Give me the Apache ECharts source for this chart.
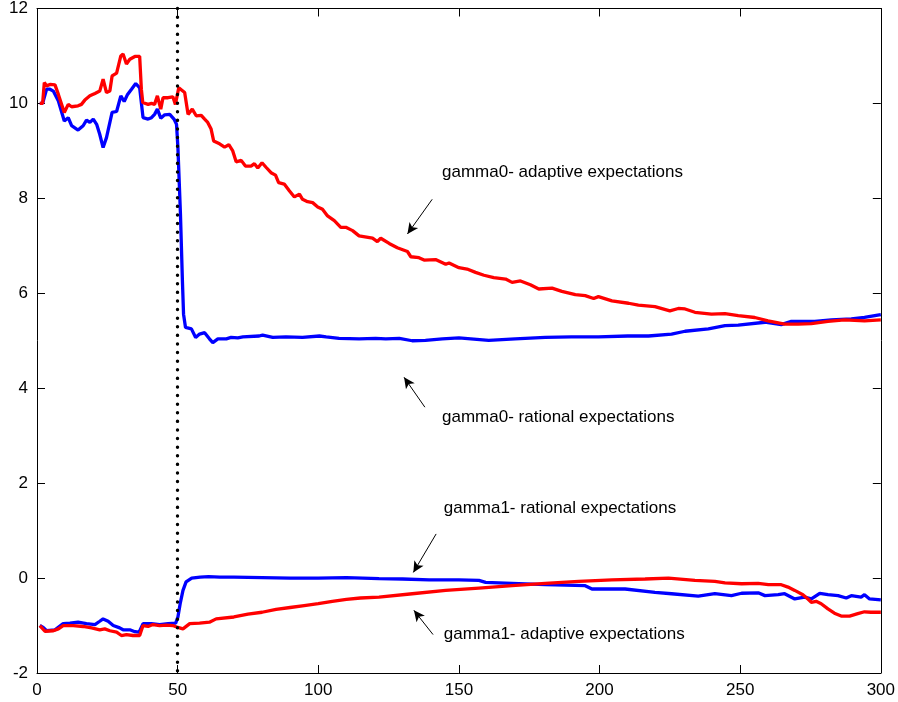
<!DOCTYPE html>
<html>
<head>
<meta charset="utf-8">
<script src="https://cdn.jsdelivr.net/npm/echarts@6/dist/echarts.min.js"></script>
<style>
  html, body { margin: 0; padding: 0; background: #fff; }
  #chart { width: 898px; height: 702px; }
</style>
</head>
<body>
<div id="chart"></div>
<script>
// Axis ticks
const xTicks = [0, 50, 100, 150, 200, 250, 300];
const yTicks = [-2, 0, 2, 4, 6, 8, 10, 12];

// Break point (period 50)
const breakPeriod = 50;

// gamma0 under adaptive expectations [period, value]
const g0Adaptive = [[1,10.0],[2,10.0],[2.6,10.44],[3.4,10.37],[4.6,10.40],[6.4,10.39],[7.6,10.19],[9.7,9.81],[11.1,9.98],[12.3,9.93],[14.6,9.95],[15.8,9.98],[17,10.07],[18.8,10.16],[20.6,10.21],[22.3,10.26],[23.5,10.51],[24.7,10.23],[25.9,10.26],[26.7,10.58],[28.3,10.64],[29.8,11.0],[30.6,11.04],[31.8,10.83],[33,10.93],[34.8,10.99],[36.5,10.99],[37.1,10.3],[37.6,10.02],[38.3,10.02],[39.5,9.98],[40.7,10.0],[41.8,9.98],[42.8,10.16],[44,9.88],[44.8,10.12],[46.6,10.12],[48.3,10.14],[49.2,9.98],[50.4,10.33],[50.7,10.37],[52.5,10.23],[53.7,9.77],[55.2,9.88],[56.6,9.74],[58.4,9.75],[59.6,9.67],[60.7,9.60],[61.9,9.46],[62.8,9.21],[64.9,9.15],[66.7,9.08],[68.2,9.13],[69.6,9.0],[70.8,8.77],[72.6,8.80],[74.1,8.68],[76.1,8.68],[77.3,8.73],[78.5,8.64],[80,8.75],[81.5,8.65],[83.2,8.54],[84.8,8.49],[85.9,8.33],[87.9,8.30],[89.7,8.16],[91.5,8.03],[93.3,8.09],[94.4,7.98],[96.2,7.93],[98,7.91],[99.8,7.82],[101.5,7.77],[103.3,7.63],[105.7,7.53],[108,7.39],[109.8,7.39],[112.2,7.32],[114.5,7.21],[119.3,7.16],[121,7.09],[122.2,7.16],[125.2,7.05],[128.1,6.96],[131.7,6.88],[132.9,6.77],[135.8,6.75],[137.6,6.70],[141.7,6.71],[145.3,6.61],[146.5,6.64],[150,6.54],[152.9,6.51],[155.9,6.44],[158.9,6.38],[162.4,6.33],[166.6,6.30],[168.9,6.23],[171.9,6.26],[175.4,6.18],[178.4,6.09],[183.1,6.11],[186.6,6.04],[191.4,5.97],[194.9,5.95],[197.9,5.89],[199.6,5.93],[204.4,5.84],[210.3,5.79],[213.8,5.75],[219.7,5.72],[225,5.63],[228,5.68],[230.4,5.67],[233.9,5.60],[239.8,5.56],[244.6,5.57],[249.3,5.53],[255.2,5.49],[259.9,5.42],[265.8,5.35],[270.6,5.35],[275.3,5.36],[281.2,5.41],[287.1,5.44],[294.2,5.42],[300,5.44]];

// gamma0 under rational expectations
const g0Rational = [[1,10.0],[2,10.0],[3.4,10.3],[4.6,10.3],[5.8,10.26],[7.6,10.05],[9.7,9.63],[11.1,9.70],[12.3,9.53],[14.6,9.44],[16.4,9.53],[17.6,9.65],[18.8,9.60],[20,9.67],[21.2,9.56],[22.3,9.35],[23.5,9.07],[24.7,9.28],[25.3,9.25],[26.7,9.81],[28.3,9.83],[29.8,10.16],[31,10.04],[32.2,10.19],[33.6,10.30],[35.1,10.42],[36.5,10.33],[37.7,9.70],[39.5,9.67],[40.7,9.70],[41.8,9.77],[42.8,9.88],[44,9.69],[45.4,9.76],[47.2,9.77],[48.7,9.67],[49.6,9.56],[50.1,9.07],[51,7.67],[51.7,6.26],[52.1,5.56],[52.8,5.28],[54.9,5.25],[56.4,5.07],[57.8,5.14],[59.6,5.17],[61.3,5.04],[62.5,4.96],[64.3,5.04],[67.3,5.04],[69,5.07],[71.4,5.06],[73.2,5.08],[79,5.10],[80.2,5.12],[83.8,5.07],[88.5,5.08],[94.4,5.07],[100.4,5.1],[102.8,5.08],[107.4,5.05],[114.5,5.04],[120.4,5.05],[124,5.04],[128.8,5.05],[133.4,5.0],[138.1,5.01],[144.1,5.04],[150,5.06],[160.6,5.01],[170,5.04],[180.7,5.07],[190,5.08],[199.6,5.08],[210,5.1],[217.4,5.10],[225.6,5.14],[230.4,5.20],[238.7,5.25],[244.6,5.32],[249.3,5.33],[258.8,5.39],[264.6,5.34],[268.2,5.41],[276.5,5.41],[282.4,5.44],[289.5,5.46],[294.2,5.49],[298.9,5.54],[300,5.55]];

// gamma1 under rational expectations
const g1Rational = [[1,-1.0],[2.2,-1.04],[3.4,-1.11],[6.4,-1.09],[9.3,-0.96],[11.7,-0.95],[14.6,-0.93],[17.6,-0.96],[20.6,-0.98],[22.3,-0.91],[23.5,-0.86],[25.3,-0.91],[27.1,-1.0],[29.4,-1.05],[30.6,-1.09],[33,-1.09],[34.8,-1.13],[36.3,-1.14],[37.7,-0.96],[40.7,-0.96],[43.6,-0.98],[46.6,-0.96],[49.3,-0.95],[50.1,-0.82],[50.9,-0.54],[51.9,-0.26],[53,-0.08],[55,0.0],[58,0.02],[61,0.03],[65,0.02],[70,0.02],[80,0.01],[90,0.0],[100,0.0],[110,0.01],[121.6,-0.01],[130,-0.02],[139.4,-0.04],[150,-0.04],[157.1,-0.05],[159.5,-0.09],[168.9,-0.11],[180.7,-0.14],[194.9,-0.16],[197.3,-0.23],[209.1,-0.23],[219.7,-0.30],[225.6,-0.33],[235.1,-0.38],[241,-0.33],[246.9,-0.37],[250.5,-0.32],[256.4,-0.31],[258.8,-0.37],[263.5,-0.35],[265.8,-0.33],[269.4,-0.44],[272.9,-0.40],[275.3,-0.44],[278.3,-0.32],[281.2,-0.35],[284.8,-0.37],[287.7,-0.42],[289.5,-0.37],[293,-0.40],[294.2,-0.35],[296,-0.44],[300,-0.46]];

// gamma1 under adaptive expectations
const g1Adaptive = [[1,-1.0],[1.7,-1.04],[2.8,-1.12],[5.8,-1.11],[7.6,-1.07],[9.3,-1.0],[12.9,-1.0],[16.4,-1.02],[19.4,-1.05],[22.3,-1.09],[24.1,-1.07],[25.9,-1.11],[28.3,-1.14],[30,-1.21],[31.8,-1.19],[34.1,-1.21],[36.5,-1.21],[37.7,-1.0],[39.5,-1.02],[41.2,-0.98],[43.6,-1.0],[46,-0.99],[48.3,-1.0],[50.1,-1.04],[51.9,-1.07],[54.3,-0.96],[57.8,-0.95],[61.3,-0.93],[63.7,-0.86],[70,-0.82],[75,-0.76],[80,-0.72],[85,-0.66],[90,-0.62],[95,-0.58],[100,-0.54],[105,-0.49],[110,-0.45],[115,-0.42],[121.6,-0.40],[133.4,-0.33],[145.3,-0.26],[157.1,-0.21],[168.9,-0.16],[180.7,-0.11],[192.6,-0.07],[204.4,-0.04],[216.2,-0.02],[224.5,0.0],[233.9,-0.05],[241,-0.07],[244.6,-0.10],[250.5,-0.12],[256.4,-0.11],[260,-0.14],[264.6,-0.14],[267,-0.19],[269.4,-0.26],[272.3,-0.35],[274.1,-0.44],[275.3,-0.51],[277,-0.49],[278.8,-0.54],[281.2,-0.65],[283.5,-0.74],[285.9,-0.80],[288.9,-0.80],[291.8,-0.75],[294.2,-0.71],[296.5,-0.72],[300,-0.72]];

// Annotation texts and their anchor points (data coordinates)
const noteTexts = [
  'gamma0- adaptive expectations',
  'gamma0- rational expectations',
  'gamma1- rational expectations',
  'gamma1- adaptive expectations'
];
const noteAnchors = [[144, 8.54], [144, 3.39], [144.6, 1.46], [144.6, -1.19]];
// Arrows: [tail, head]
const arrowLines = [
  [[140.5, 7.98], [131.7, 7.25]],
  [[137.9, 3.60], [130.5, 4.23]],
  [[141.9, 0.93], [133.8, 0.12]],
  [[140.8, -1.19], [134.0, -0.68]]
];

const FONT = 'Liberation Sans, Arial, Helvetica, sans-serif';
const chart = echarts.init(document.getElementById('chart'), null, { renderer: 'canvas' });

const xMin = xTicks[0], xMax = xTicks[xTicks.length - 1];
const yMin = yTicks[0], yMax = yTicks[yTicks.length - 1];
const xStep = xTicks[1] - xTicks[0];
const yStep = yTicks[1] - yTicks[0];

function valueAxis(pos, min, max, step, showLabel) {
  return {
    type: 'value', position: pos, min: min, max: max, interval: step,
    axisLine: { show: true, onZero: false, lineStyle: { color: '#000', width: 1 } },
    axisTick: { show: true, inside: true, length: 8, lineStyle: { color: '#000', width: 1 } },
    axisLabel: { show: showLabel, color: '#000', fontSize: 17, fontFamily: FONT, margin: 9 },
    splitLine: { show: false }
  };
}

function lineSeries(name, data, color) {
  return {
    name: name, type: 'line', data: data, showSymbol: false, symbol: 'none',
    xAxisIndex: 0, yAxisIndex: 0, animation: false,
    lineStyle: { color: color, width: 3.3 }, silent: true
  };
}

chart.setOption({
  backgroundColor: '#fff',
  animation: false,
  grid: { left: 37, right: 15, top: 7.5, bottom: 29, containLabel: false },
  xAxis: [
    valueAxis('bottom', xMin, xMax, xStep, true),
    valueAxis('top', xMin, xMax, xStep, false)
  ],
  yAxis: [
    valueAxis('left', yMin, yMax, yStep, true),
    valueAxis('right', yMin, yMax, yStep, false)
  ],
  series: [
    lineSeries('gamma0 rational', g0Rational, '#0000ff'),
    lineSeries('gamma1 rational', g1Rational, '#0000ff'),
    lineSeries('gamma0 adaptive', g0Adaptive, '#ff0000'),
    lineSeries('gamma1 adaptive', g1Adaptive, '#ff0000'),
    {
      name: 'notes', type: 'line', data: [], silent: true, animation: false,
      markLine: {
        silent: true, animation: false,
        symbol: ['none', 'arrow'], symbolSize: [8, 11],
        label: { show: false },
        lineStyle: { color: '#000', width: 1, type: 'solid' },
        data: arrowLines.map(a => [
          { coord: a[0], lineStyle: { color: '#000', width: 1 } },
          { coord: a[1] }
        ]).concat([
          [
            { xAxis: breakPeriod, yAxis: yMax, symbol: 'none',
              lineStyle: { color: '#000', width: 3.4, type: [0.1, 8.5], cap: 'round' } },
            { xAxis: breakPeriod, yAxis: yMin, symbol: 'none' }
          ]
        ])
      },
      markPoint: {
        silent: true, animation: false,
        symbol: 'circle', symbolSize: 0,
        label: {
          show: true, position: 'right', distance: 0,
          color: '#000', fontSize: 17, fontFamily: FONT
        },
        data: noteTexts.map((t, i) => ({
          coord: noteAnchors[i], value: t,
          label: { formatter: t }
        }))
      }
    }
  ]
});
</script>
</body>
</html>
